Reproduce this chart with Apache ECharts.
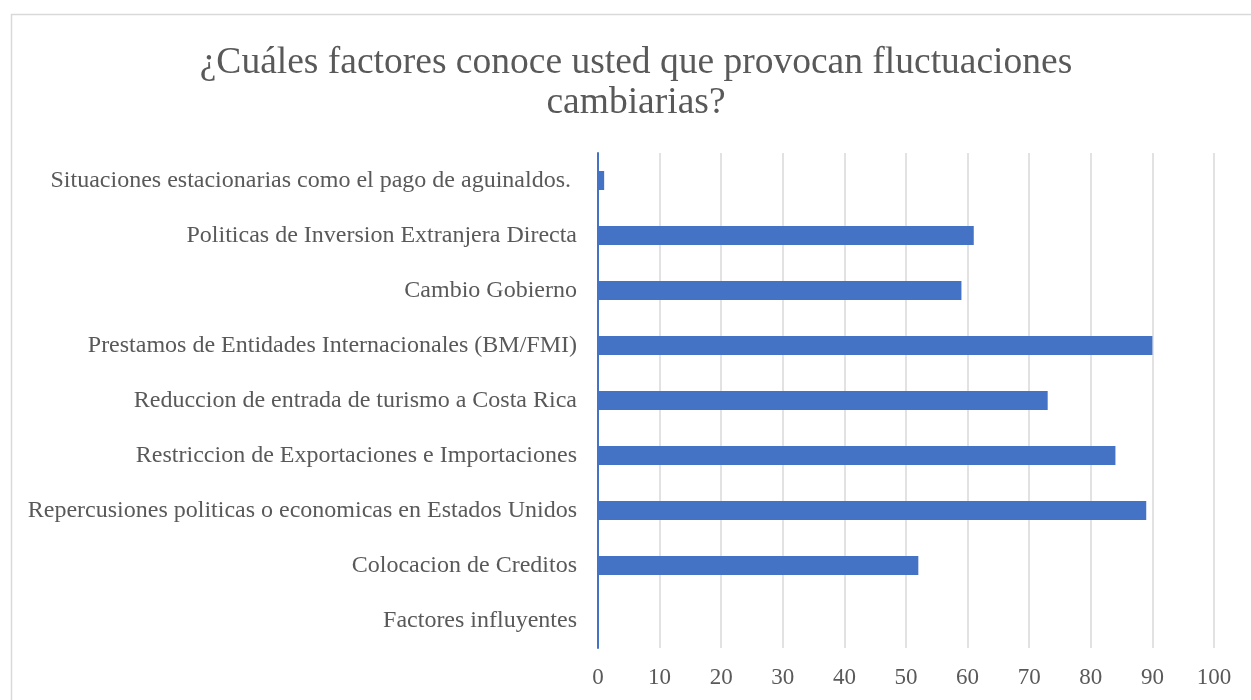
<!DOCTYPE html>
<html lang="es">

<head>
    <meta charset="UTF-8">
    <title>Factores de fluctuaciones cambiarias</title>
    <style type="text/css">
        html, body { margin: 0; padding: 0; background: #fff; }
        #main {
            height: 700px;
            width: 1251px;
        }
    </style>
    <script src="https://cdn.jsdelivr.net/npm/echarts@6/dist/echarts.min.js"></script>
</head>

<body>
    <div id="main"></div>
    <script type="text/javascript">
        // categorias de abajo hacia arriba (eje de categorias de ECharts)
        var categorias = [
            'Factores influyentes',
            'Colocacion de Creditos',
            'Repercusiones politicas o economicas en Estados Unidos',
            'Restriccion de Exportaciones e Importaciones',
            'Reduccion de entrada de turismo a Costa Rica',
            'Prestamos de Entidades Internacionales (BM/FMI)',
            'Cambio Gobierno',
            'Politicas de Inversion Extranjera Directa',
            'Situaciones estacionarias como el pago de aguinaldos. '
        ];
        var valores = [0, 52, 89, 84, 73, 90, 59, 61, 1];
        var ejeMin = 0, ejeMax = 100, ejeIntervalo = 10;

        var fuente = '"Liberation Serif", "Times New Roman", serif';
        var myChart = echarts.init(document.getElementById('main'));
        var option = {
            animation: false,
            graphic: [{
                type: 'rect',
                shape: { x: 11.5, y: 14.5, width: 1300, height: 800 },
                style: { fill: 'none', stroke: '#d9d9d9', lineWidth: 1.5 },
                silent: true
            }],
            title: {
                text: '¿Cuáles factores conoce usted que provocan fluctuaciones\ncambiarias?',
                left: 631,
                top: 38,
                textAlign: 'center',
                textStyle: {
                    fontFamily: fuente,
                    fontWeight: 'normal',
                    fontSize: 37.5,
                    lineHeight: 40,
                    color: '#595959'
                }
            },
            grid: {
                left: 598,
                right: 37,
                top: 153,
                bottom: 52,
                containLabel: false
            },
            xAxis: {
                type: 'value',
                min: ejeMin,
                max: ejeMax,
                interval: ejeIntervalo,
                axisLine: { show: false },
                axisTick: { show: false },
                splitLine: { lineStyle: { color: '#d9d9d9', width: 1.5 } },
                axisLabel: {
                    fontFamily: fuente,
                    fontSize: 23,
                    color: '#595959',
                    margin: 18
                }
            },
            yAxis: {
                type: 'category',
                data: categorias,
                axisLine: { show: true, lineStyle: { color: '#4472C4', width: 2 } },
                axisTick: { show: false },
                axisLabel: {
                    fontFamily: fuente,
                    fontSize: 24,
                    color: '#595959',
                    margin: 21
                }
            },
            series: [{
                type: 'bar',
                data: valores,
                barWidth: 19,
                itemStyle: { color: '#4472C4' }
            }]
        };
        myChart.setOption(option);
    </script>
</body>

</html>
